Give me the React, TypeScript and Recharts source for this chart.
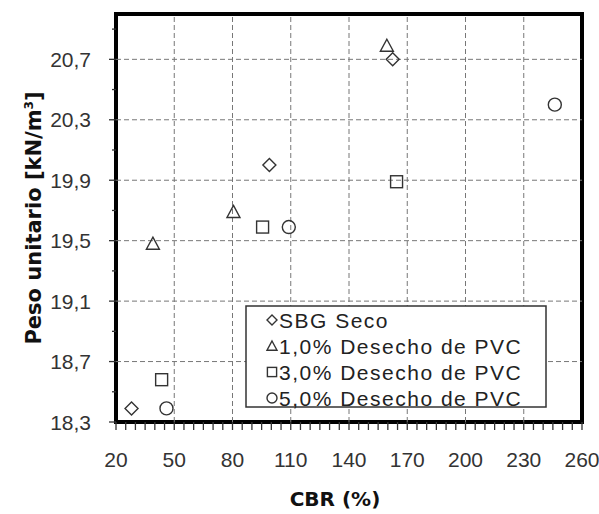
import { ScatterChart, Scatter, XAxis, YAxis, ReferenceLine, ReferenceArea, Legend } from "recharts";

const seriesNames = ["SBG Seco", "1,0% Desecho de PVC", "3,0% Desecho de PVC", "5,0% Desecho de PVC"];
const sbgSeco = [
  { cbr: 28, peso: 18.39 },
  { cbr: 99, peso: 20.0 },
  { cbr: 162.5, peso: 20.7 },
];
const pvc1 = [
  { cbr: 39, peso: 19.48 },
  { cbr: 80.5, peso: 19.69 },
  { cbr: 159.5, peso: 20.79 },
];
const pvc3 = [
  { cbr: 43.5, peso: 18.58 },
  { cbr: 95.5, peso: 19.59 },
  { cbr: 164.5, peso: 19.89 },
];
const pvc5 = [
  { cbr: 46, peso: 18.39 },
  { cbr: 109, peso: 19.59 },
  { cbr: 246, peso: 20.4 },
];

const xDomain = [20, 260];
const yDomain = [18.3, 21.0];
const xMajorTicks = [20, 50, 80, 110, 140, 170, 200, 230, 260];
const xMinorTicks = [
  20, 25, 30, 35, 40, 45, 50, 55, 60, 65, 70, 75, 80, 85, 90, 95, 100, 105, 110, 115, 120, 125, 130, 135, 140,
  145, 150, 155, 160, 165, 170, 175, 180, 185, 190, 195, 200, 205, 210, 215, 220, 225, 230, 235, 240, 245, 250,
  255, 260,
];
const yMajorTicks = [18.3, 18.7, 19.1, 19.5, 19.9, 20.3, 20.7];
const yMinorTicks = [18.3, 18.5, 18.7, 18.9, 19.1, 19.3, 19.5, 19.7, 19.9, 20.1, 20.3, 20.5, 20.7, 20.9];

const kinds = ["diamond", "triangle", "square", "circle"];
const INK = "#333";
const FONT = "'Liberation Sans', Arial, sans-serif";
const TITLE_FONT = "'DejaVu Sans', Verdana, sans-serif";

const isIn = (list: number[], v: number) => list.some((t) => Math.abs(t - v) < 1e-6);
const fmt = (v: number) => v.toFixed(1).replace(".", ",");

function Marker({ kind, cx, cy, r }: { kind: string; cx: number; cy: number; r: number }) {
  const common = { fill: "none", stroke: INK, strokeWidth: 1.4 };
  if (kind === "diamond")
    return <polygon points={`${cx},${cy - r} ${cx + r},${cy} ${cx},${cy + r} ${cx - r},${cy}`} {...common} />;
  if (kind === "triangle")
    return <polygon points={`${cx},${cy - r} ${cx + r},${cy + r * 0.85} ${cx - r},${cy + r * 0.85}`} {...common} />;
  if (kind === "square")
    return <rect x={cx - r * 0.92} y={cy - r * 0.92} width={r * 1.84} height={r * 1.84} {...common} />;
  return <circle cx={cx} cy={cy} r={r} {...common} />;
}

const shapeFor = (kind: string) => (p: any) => <Marker kind={kind} cx={p.cx} cy={p.cy} r={6.5} />;

const XTick = ({ x, y, payload }: any) => {
  const major = isIn(xMajorTicks, payload.value);
  return (
    <g>
      <line x1={x} x2={x} y1={y} y2={y + 8} stroke={INK} strokeWidth={1.3} />
      {major && (
        <text x={x} y={y + 45} textAnchor="middle" fontFamily={FONT} fontSize={21} fill={INK}>
          {payload.value}
        </text>
      )}
    </g>
  );
};

const YTick = ({ x, y, payload }: any) => {
  const major = isIn(yMajorTicks, payload.value);
  return (
    <g>
      <line x1={x - (major ? 7 : 4)} x2={x} y1={y} y2={y} stroke={INK} strokeWidth={1.3} />
      {major && (
        <text x={x - 25} y={y} dy="0.36em" textAnchor="end" fontFamily={FONT} fontSize={21} fill={INK}>
          {fmt(payload.value)}
        </text>
      )}
    </g>
  );
};

const YTitle = ({ viewBox }: any) => {
  const cx = viewBox.x + 33;
  const cy = viewBox.y + viewBox.height / 2;
  return (
    <text
      x={cx}
      y={cy}
      dy="0.36em"
      transform={`rotate(-90 ${cx} ${cy})`}
      textAnchor="middle"
      fontFamily={TITLE_FONT}
      fontWeight="bold"
      fontSize={21}
      fill="#111"
    >
      Peso unitario [kN/m<tspan dy={-8} fontSize={12}>3</tspan>
      <tspan dy={8}>]</tspan>
    </text>
  );
};

const XTitle = ({ viewBox }: any) => (
  <text
    x={viewBox.x + viewBox.width / 2 - 14}
    y={viewBox.y + 84}
    textAnchor="middle"
    fontFamily={TITLE_FONT}
    fontWeight="bold"
    fontSize={20}
    fill="#111"
  >
    CBR (%)
  </text>
);

const renderLegend = () => (
  <svg width={303} height={104} style={{ display: "block" }}>
    <rect x={1} y={1} width={300} height={101} fill="#fff" stroke={INK} strokeWidth={1.5} />
    {seriesNames.map((name, i) => (
      <g key={name}>
        <Marker kind={kinds[i]} cx={27} cy={15 + i * 26} r={5} />
        <text
          x={34}
          y={15 + i * 26}
          dy="0.36em"
          fontFamily={FONT}
          fontSize={21}
          letterSpacing={1.5}
          fill="#222"
        >
          {name}
        </text>
      </g>
    ))}
  </svg>
);

export default function App() {
  const data = [sbgSeco, pvc1, pvc3, pvc5];
  return (
    <div style={{ position: "absolute", left: 0, top: 0, background: "#fff" }}>
      <ScatterChart width={599} height={514} margin={{ top: 14, right: 17, bottom: 0, left: 0 }}>
        <XAxis
          type="number"
          dataKey="cbr"
          domain={xDomain}
          ticks={xMinorTicks}
          interval={0}
          tickSize={0}
          tickMargin={0}
          tickLine={false}
          axisLine={false}
          tick={<XTick />}
          height={92}
          label={<XTitle />}
        />
        <YAxis
          type="number"
          dataKey="peso"
          domain={yDomain}
          ticks={yMinorTicks}
          interval={0}
          tickSize={0}
          tickMargin={0}
          tickLine={false}
          axisLine={false}
          tick={<YTick />}
          width={116}
          label={<YTitle />}
        />
        {xMajorTicks
          .filter((v) => v > xDomain[0] && v < xDomain[1])
          .map((v) => (
            <ReferenceLine key={"x" + v} x={v} stroke="#777" strokeDasharray="5 3" strokeWidth={1} />
          ))}
        {yMajorTicks
          .filter((v) => v > yDomain[0] && v < yDomain[1])
          .map((v) => (
            <ReferenceLine key={"y" + v} y={v} stroke="#777" strokeDasharray="5 3" strokeWidth={1} />
          ))}
        <ReferenceArea
          x1={xDomain[0]}
          x2={xDomain[1]}
          y1={yDomain[0]}
          y2={yDomain[1]}
          fill="none"
          fillOpacity={0}
          stroke="#000"
          strokeWidth={4}
        />
        <Legend
          layout="horizontal"
          verticalAlign="middle"
          align="center"
          content={renderLegend}
          wrapperStyle={{ position: "absolute", left: 245, top: 305, width: 303, height: 104 }}
        />
        {data.map((d, i) => (
          <Scatter
            key={seriesNames[i]}
            name={seriesNames[i]}
            data={d}
            shape={shapeFor(kinds[i])}
            isAnimationActive={false}
          />
        ))}
      </ScatterChart>
    </div>
  );
}
